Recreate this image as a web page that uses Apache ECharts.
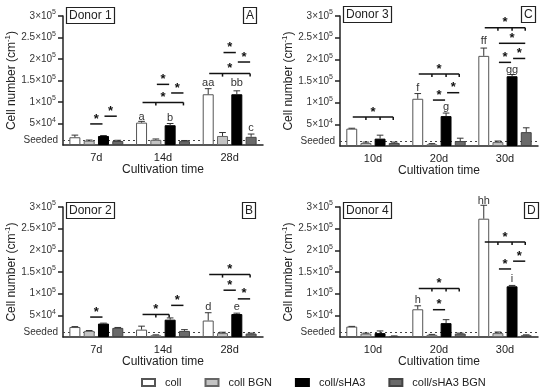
<!DOCTYPE html>
<html><head><meta charset="utf-8">
<script src="https://cdn.jsdelivr.net/npm/echarts@6/dist/echarts.min.js"></script>
<style>html,body{margin:0;padding:0;background:#fff}#c{width:550px;height:391px}</style>
</head><body><div id="c"></div>
<script>
// ---------- data ----------
const catsAB = ['7d', '14d', '28d'];
const catsCD = ['10d', '20d', '30d'];
const seriesNames = ['coll', 'coll BGN', 'coll/sHA3', 'coll/sHA3 BGN'];
const yTickValues = [50000, 100000, 150000, 200000, 250000, 300000];
const seededLevel = 10000;

// Donor 1 (A): means and upper error-bar ends
const d1Coll = [18000, 52000, 118000];
const d1CollBGN = [10000, 12000, 21000];
const d1SHA3 = [21000, 46000, 118000];
const d1SHA3BGN = [9300, 9000, 19000];
const d1CollTop = [23000, 55000, 131000];
const d1CollBGNTop = [11500, 14000, 29000];
const d1SHA3Top = [22000, 50000, 126000];
const d1SHA3BGNTop = [11000, 10500, 25500];

// Donor 2 (B)
const d2Coll = [23000, 17000, 38000];
const d2CollBGN = [14000, 4000, 9000];
const d2SHA3 = [31000, 40000, 53000];
const d2SHA3BGN = [21000, 14000, 8000];
const d2CollTop = [24000, 25000, 56000];
const d2CollBGNTop = [15000, 5000, 11000];
const d2SHA3Top = [32000, 44000, 55000];
const d2SHA3BGNTop = [22000, 17000, 9000];

// Donor 3 (C)
const d3Coll = [40000, 109000, 208000];
const d3CollBGN = [7000, 4000, 9000];
const d3SHA3 = [17000, 69000, 161000];
const d3SHA3BGN = [7000, 11500, 32000];
const d3CollTop = [41000, 121000, 226000];
const d3CollBGNTop = [9000, 5500, 11500];
const d3SHA3Top = [25000, 76000, 165000];
const d3SHA3BGNTop = [9000, 18000, 42000];

// Donor 4 (D)
const d4Coll = [24000, 64000, 273000];
const d4CollBGN = [8000, 5000, 9000];
const d4SHA3 = [9000, 32000, 117000];
const d4SHA3BGN = [2000, 8000, 4000];
const d4CollTop = [24500, 72000, 304000];
const d4CollBGNTop = [9000, 6000, 11500];
const d4SHA3Top = [14000, 40000, 119000];
const d4SHA3BGNTop = [2500, 9000, 5000];

// significance lines: [category, fromBar, toBar, level, tick bars]
const d1Brackets = [
  [0, 1, 2, 49000, []], [0, 2, 3, 67000, []],
  [1, 0, 3, 99000, [1, 3]], [1, 1, 2, 141000, []], [1, 2, 3, 121000, []],
  [2, 0, 3, 166000, [1, 3]], [2, 1, 2, 215000, []], [2, 2, 3, 193000, []]
];
const d2Brackets = [
  [0, 1, 2, 46000, []],
  [1, 0, 2, 52000, [1, 2]], [1, 2, 3, 73000, []],
  [2, 0, 3, 144000, [1, 3]], [2, 1, 2, 108000, []], [2, 2, 3, 88000, []]
];
const d3Brackets = [
  [0, 0, 3, 67000, [1, 2, 3]],
  [1, 0, 3, 166000, [1, 2, 3]], [1, 1, 2, 106000, []], [1, 2, 3, 123000, []],
  [2, 0, 3, 273000, [1, 2, 3]], [2, 1, 3, 237000, []], [2, 1, 2, 193000, []], [2, 2, 3, 202000, []]
];
const d4Brackets = [
  [1, 0, 3, 112000, [1, 2, 3]], [1, 1, 2, 63000, []],
  [2, 0, 3, 219000, [1, 2, 3]], [2, 1, 2, 157000, []], [2, 2, 3, 175000, []]
];

// letters above bars: [category, bar, level, text]
const d1Letters = [[1, 0, 66000, 'a'], [1, 2, 64000, 'b'], [2, 0, 145000, 'aa'], [2, 2, 145000, 'bb'], [2, 3, 39000, 'c']];
const d2Letters = [[2, 0, 69000, 'd'], [2, 2, 69000, 'e']];
const d3Letters = [[1, 0, 135000, 'f'], [1, 2, 89000, 'g'], [2, 0, 242000, 'ff'], [2, 2, 176000, 'gg']];
const d4Letters = [[1, 0, 85000, 'h'], [2, 0, 315000, 'hh'], [2, 2, 135000, 'i']];

// ---------- layout / style ----------
const FONT = 'Liberation Sans, Arial, sans-serif';
const BAR_W = 0.165, BAR_GAP = 0.30;
const STEP = BAR_W * (1 + BAR_GAP);
const INK = '#222';
const barStyles = [
  { color: '#ffffff', borderColor: '#555', borderWidth: 1 },
  { color: '#c4c4c4', borderColor: '#666', borderWidth: 1 },
  { color: '#000000', borderColor: '#000', borderWidth: 1 },
  { color: '#6a6a6a', borderColor: '#444', borderWidth: 1 }
];

const panels = [
  { grid: { left: 63, top: 16, width: 200, height: 129 }, cats: catsAB,
    means: [d1Coll, d1CollBGN, d1SHA3, d1SHA3BGN], tops: [d1CollTop, d1CollBGNTop, d1SHA3Top, d1SHA3BGNTop],
    brackets: d1Brackets, letters: d1Letters, donor: 'Donor 1', tag: 'A', donorPos: [66, 7], tagPos: [243, 7] },
  { grid: { left: 340, top: 16, width: 198, height: 130 }, cats: catsCD,
    means: [d3Coll, d3CollBGN, d3SHA3, d3SHA3BGN], tops: [d3CollTop, d3CollBGNTop, d3SHA3Top, d3SHA3BGNTop],
    brackets: d3Brackets, letters: d3Letters, donor: 'Donor 3', tag: 'C', donorPos: [343, 6], tagPos: [521, 6] },
  { grid: { left: 63, top: 207, width: 200, height: 130 }, cats: catsAB,
    means: [d2Coll, d2CollBGN, d2SHA3, d2SHA3BGN], tops: [d2CollTop, d2CollBGNTop, d2SHA3Top, d2SHA3BGNTop],
    brackets: d2Brackets, letters: d2Letters, donor: 'Donor 2', tag: 'B', donorPos: [66, 202], tagPos: [242, 202] },
  { grid: { left: 340, top: 207, width: 198, height: 130 }, cats: catsCD,
    means: [d4Coll, d4CollBGN, d4SHA3, d4SHA3BGN], tops: [d4CollTop, d4CollBGNTop, d4SHA3Top, d4SHA3BGNTop],
    brackets: d4Brackets, letters: d4Letters, donor: 'Donor 4', tag: 'D', donorPos: [343, 202], tagPos: [524, 202] }
];

function barX(api, cat, bar) {
  const band = api.size([1, 0])[0];
  return api.coord([cat, 0])[0] + (bar - 1.5) * band * STEP;
}

function yLabel(v) {
  if (v === 0) return '';
  const e = v >= 100000 ? 5 : 4;
  const m = v / Math.pow(10, e);
  return '{b|' + m + '×10}{s|' + e + '}';
}

const grids = [], xAxes = [], yAxes = [], series = [], titles = [];
const boxStyle = { borderWidth: 1.2, borderColor: INK, padding: [3, 3, 2, 3],
  textStyle: { fontSize: 12, fontWeight: 'normal', color: INK, fontFamily: FONT } };

panels.forEach((p, g) => {
  grids.push(Object.assign({}, p.grid));
  xAxes.push({
    gridIndex: g, type: 'category', data: p.cats,
    axisLine: { lineStyle: { color: INK, width: 1.5 } },
    axisTick: { alignWithLabel: true, length: 5, lineStyle: { color: INK, width: 1.5 } },
    axisLabel: { fontSize: 11, color: INK, margin: 7, fontFamily: FONT },
    name: 'Cultivation time', nameLocation: 'middle', nameGap: 18,
    nameTextStyle: { fontSize: 12, color: INK, fontFamily: FONT }
  });
  yAxes.push({
    gridIndex: g, type: 'value', min: 0, max: 300000, interval: 50000,
    axisLine: { show: true, lineStyle: { color: INK, width: 1.5 } },
    axisTick: { show: true, length: 5, customValues: yTickValues, lineStyle: { color: INK, width: 1.5 } },
    splitLine: { show: false },
    axisLabel: {
      margin: 7, formatter: yLabel, customValues: yTickValues,
      rich: {
        b: { fontSize: 10, lineHeight: 14, color: '#333', fontFamily: FONT },
        s: { fontSize: 7, lineHeight: 7, verticalAlign: 'top', color: '#333', fontFamily: FONT }
      }
    },
    name: '{n|Cell number (cm}{s|-1}{n|)}', nameLocation: 'middle', nameGap: 41,
    nameTextStyle: {
      rich: {
        n: { fontSize: 12, lineHeight: 16, color: INK, fontFamily: FONT },
        s: { fontSize: 8, lineHeight: 8, verticalAlign: 'top', color: INK, fontFamily: FONT }
      }
    }
  });
  titles.push(Object.assign({ text: p.donor, left: p.donorPos[0], top: p.donorPos[1] }, boxStyle));
  titles.push(Object.assign({ text: p.tag, left: p.tagPos[0], top: p.tagPos[1] }, boxStyle));

  p.means.forEach((vals, k) => {
    const s = {
      name: seriesNames[k], type: 'bar', xAxisIndex: g, yAxisIndex: g, data: vals,
      barWidth: (BAR_W * 100) + '%', barGap: (BAR_GAP * 100) + '%',
      itemStyle: barStyles[k], z: 2
    };
    if (k === 0) {
      s.markLine = {
        silent: true, symbol: 'none', z: 1, animation: false,
        data: [{ yAxis: seededLevel }],
        lineStyle: { type: [2, 3], color: '#444', width: 1 },
        label: { show: true, position: 'start', formatter: 'Seeded', fontSize: 10, color: '#333', distance: 5, fontFamily: FONT }
      };
    }
    series.push(s);
  });

  // error bars
  const errData = [];
  p.means.forEach((vals, k) => vals.forEach((v, c) => errData.push([c, v, p.tops[k][c], k])));
  series.push({
    type: 'custom', xAxisIndex: g, yAxisIndex: g, z: 3, silent: true, clip: false,
    data: errData, encode: { x: 0, y: [1, 2] },
    renderItem: (params, api) => {
      const c = api.value(0), m = api.value(1), t = api.value(2), k = api.value(3);
      if (t <= m) return null;
      const band = api.size([1, 0])[0];
      const x = barX(api, c, k);
      const y1 = api.coord([c, m])[1], y2 = api.coord([c, t])[1];
      const cap = band * 0.05;
      const st = { stroke: '#333', lineWidth: 1 };
      return { type: 'group', children: [
        { type: 'line', shape: { x1: x, y1: y1, x2: x, y2: y2 }, style: st },
        { type: 'line', shape: { x1: x - cap, y1: y2, x2: x + cap, y2: y2 }, style: st }
      ] };
    }
  });

  // significance brackets
  const br = p.brackets;
  series.push({
    type: 'custom', xAxisIndex: g, yAxisIndex: g, z: 4, silent: true, clip: false,
    data: br.map(b => [b[0], b[3]]), encode: { x: 0, y: 1 },
    renderItem: (params, api) => {
      const b = br[params.dataIndex];
      const c = b[0];
      const xf = barX(api, c, b[1]) + 1, xt = barX(api, c, b[2]) - 1;
      const y = api.coord([c, b[3]])[1];
      const st = { stroke: '#111', lineWidth: 1.5 };
      const children = [{ type: 'line', shape: { x1: xf, y1: y, x2: xt, y2: y }, style: st }];
      b[4].forEach(t => {
        let tx = barX(api, c, t);
        if (t === b[2]) tx = xt;
        children.push({ type: 'line', shape: { x1: tx, y1: y, x2: tx, y2: y + 3 }, style: st });
      });
      children.push({ type: 'text', x: (xf + xt) / 2, y: y - 5,
        style: { text: '*', fill: '#111', font: 'bold 13px ' + FONT, align: 'center', verticalAlign: 'middle' } });
      return { type: 'group', children: children };
    }
  });

  // letters
  const lt = p.letters;
  series.push({
    type: 'custom', xAxisIndex: g, yAxisIndex: g, z: 4, silent: true, clip: false,
    data: lt.map(l => [l[0], l[2]]), encode: { x: 0, y: 1 },
    renderItem: (params, api) => {
      const l = lt[params.dataIndex];
      const x = barX(api, l[0], l[1]);
      const y = api.coord([l[0], l[2]])[1];
      return { type: 'text', x: x, y: y,
        style: { text: l[3], fill: '#333', font: '11px ' + FONT, align: 'center', verticalAlign: 'middle' } };
    }
  });
});

const chart = echarts.init(document.getElementById('c'), null, { renderer: 'canvas' });
chart.setOption({
  backgroundColor: '#fff',
  animation: false,
  textStyle: { fontFamily: FONT },
  title: titles,
  grid: grids,
  xAxis: xAxes,
  yAxis: yAxes,
  legend: {
    data: seriesNames, left: 136, top: 372, icon: 'rect',
    itemWidth: 13, itemHeight: 7, itemGap: 23, selectedMode: false,
    textStyle: { fontSize: 11, color: INK, fontFamily: FONT, padding: [0, 0, 0, 5] }
  },
  series: series
});
</script></body></html>
